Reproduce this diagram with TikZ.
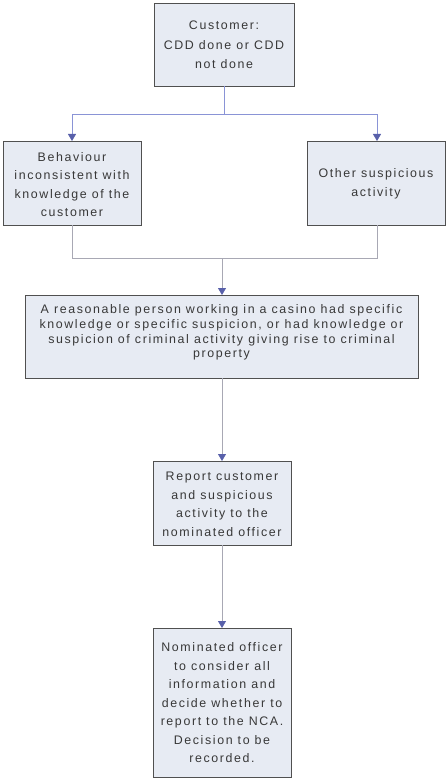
\documentclass[tikz,border=0pt]{standalone}
\usepackage{fontspec}
\setmainfont{Liberation Sans}[LetterSpace=13]
\usetikzlibrary{arrows.meta}
\definecolor{boxfill}{HTML}{E7EBF3}
\definecolor{boxline}{HTML}{505050}
\definecolor{linkblue}{HTML}{8A94D6}
\definecolor{linkgrey}{HTML}{A8A8B4}
\definecolor{tipblue}{HTML}{5860AA}
\tikzset{
  x=1pt, y=-1pt,
  flowbox/.style={draw=boxline, fill=boxfill, line width=0.9pt, inner sep=0pt},
  boxtext/.style={font=\fontsize{12.4}{18.5}\selectfont, text=black!78, align=center},
  link/.style={draw=linkblue, line width=0.8pt},
  greylink/.style={draw=linkgrey, line width=0.8pt},
  tip/.style={-{Triangle[width=8pt,length=7pt,fill=tipblue,color=tipblue]}}
}
\begin{document}
\begin{tikzpicture}
\useasboundingbox (0,0) rectangle (446,778);
% boxes
\draw[flowbox] (154,3) rectangle (294,86);
\draw[flowbox] (3,141) rectangle (141,225);
\draw[flowbox] (307,141) rectangle (445,225);
\draw[flowbox] (25,295) rectangle (418,378);
\draw[flowbox] (153,461) rectangle (291,545);
\draw[flowbox] (153,628) rectangle (291,777);
% box texts
\node[boxtext, font=\fontsize{12.4}{19.5}\selectfont] (cust) at (224,45) {Customer:\\CDD done or CDD\\not done};
\node[boxtext] (behav) at (72,184.5) {Behaviour\\inconsistent with\\knowledge of the\\customer};
\node[boxtext] (other) at (376,184) {Other suspicious\\activity};
\node[boxtext, font=\fontsize{12.4}{14.7}\selectfont] (reason) at (221.5,332.5) {A reasonable person working in a casino had specific\\knowledge or specific suspicion, or had knowledge or\\suspicion of criminal activity giving rise to criminal\\property};
\node[boxtext] (report) at (222,504.5) {Report customer\\and suspicious\\activity to the\\nominated officer};
\node[boxtext] (nomin) at (222,703) {Nominated officer\\to consider all\\information and\\decide whether to\\report to the NCA.\\Decision to be\\recorded.};
% anchor points on box edges
\coordinate (custB) at (224,86);
\coordinate (split) at (224,114);
\coordinate (behavT) at (72,141);
\coordinate (otherT) at (377,141);
\coordinate (behavB) at (72,225);
\coordinate (otherB) at (377,225);
\coordinate (join) at (222,258);
\coordinate (reasonT) at (222,295);
\coordinate (reasonB) at (222,378);
\coordinate (reportT) at (222,461);
\coordinate (reportB) at (222,545);
\coordinate (nominT) at (222,628);
% connectors
\draw[link] (custB) -- (split);
\draw[link, tip] (split) -| (behavT);
\draw[link, tip] (split) -| (otherT);
\draw[greylink] (behavB) |- (join);
\draw[greylink] (otherB) |- (join);
\draw[greylink, tip] (join) -- (reasonT);
\draw[greylink, tip] (reasonB) -- (reportT);
\draw[greylink, tip] (reportB) -- (nominT);
\end{tikzpicture}
\end{document}
